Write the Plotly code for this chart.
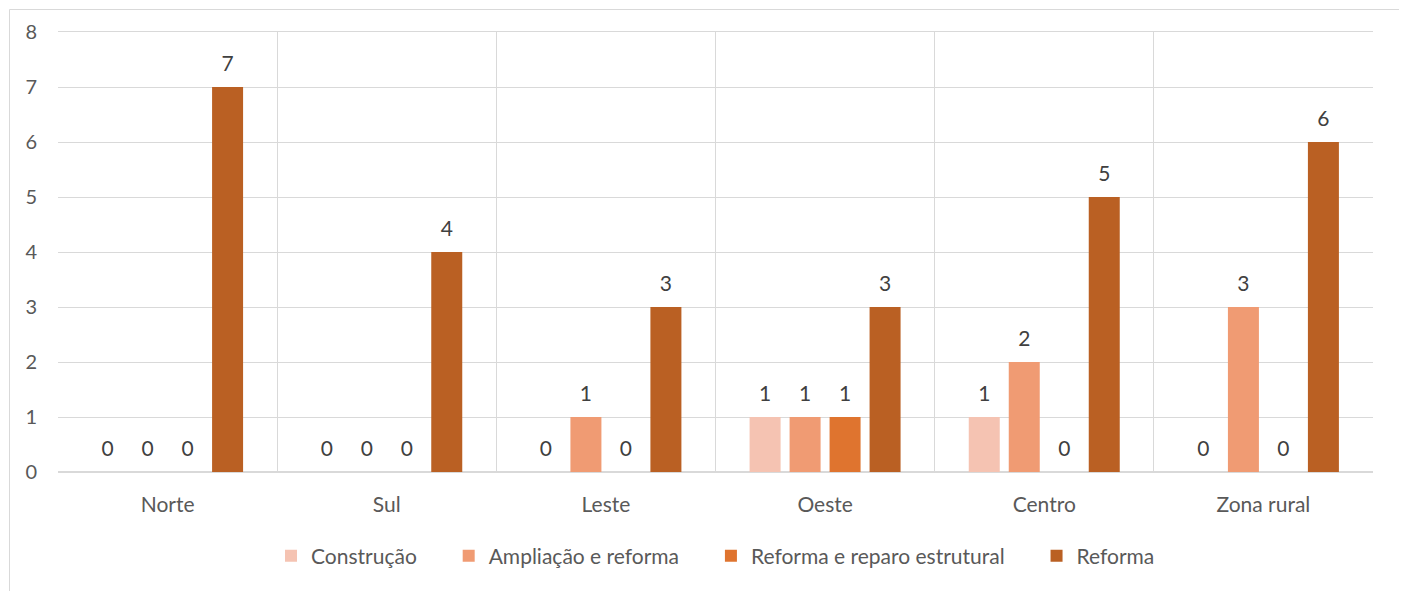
import plotly.graph_objects as go

categories = ["Norte", "Sul", "Leste", "Oeste", "Centro", "Zona rural"]
series_names = ["Construção", "Ampliação e reforma", "Reforma e reparo estrutural", "Reforma"]
construcao = [0, 0, 0, 1, 1, 0]
ampliacao = [0, 0, 1, 1, 2, 3]
reparo = [0, 0, 0, 1, 0, 0]
reforma = [7, 4, 3, 3, 5, 6]
colors = ["#F5C3B2", "#F09B73", "#DF742F", "#BA6023"]

FONT = "Lato"
NB = "\u00a0" * 5

fig = go.Figure()
all_vals = [construcao, ampliacao, reparo, reforma]
for i, (name, vals, col) in enumerate(zip(series_names, all_vals, colors)):
    label = name + (NB if i < len(series_names) - 1 else "")
    fig.add_trace(go.Bar(
        x=categories, y=vals, name=label, offsetgroup=str(i),
        marker=dict(color=col, line=dict(width=0)),
        hoverinfo="x+y+name",
    ))
for i, vals in enumerate(all_vals):
    fig.add_trace(go.Scatter(
        x=categories, y=vals, mode="markers+text", offsetgroup=str(i),
        text=[str(v) for v in vals], textposition="top center",
        marker=dict(size=16, opacity=0), showlegend=False, hoverinfo="skip",
        textfont=dict(size=21, color="#404040", family=FONT), cliponaxis=False,
    ))

# page has an 8px body offset
OFF = 8
W, H = 1407 - OFF, 591 - OFF
ml, mr, mt, mb = 58 - OFF, 34, 32 - OFF, 119
pw, ph = W - ml - mr, H - mt - mb

def px2x(p):
    return (p - OFF - ml) / pw

def py2y(p):
    return (H + OFF - mb - p) / ph

fig.update_layout(
    width=W, height=H,
    margin=dict(l=ml, r=mr, t=mt, b=mb),
    barmode="group", bargap=0.27, bargroupgap=0.225,
    scattermode="group", scattergap=0.27,
    plot_bgcolor="white", paper_bgcolor="white",
    font=dict(family=FONT, color="#595959", size=21),
    showlegend=True,
    legend=dict(orientation="h", x=0.5, xanchor="center", y=py2y(556), yanchor="middle",
                font=dict(size=21, color="#595959"), itemwidth=30, traceorder="normal"),
    xaxis=dict(tickson="boundaries", showgrid=True, gridcolor="#D9D9D9", gridwidth=1,
               ticks="", showline=True, linecolor="#D9D9D9", mirror=True,
               ticklabelstandoff=14, tickfont=dict(size=21, color="#595959")),
    yaxis=dict(range=[0, 8], dtick=1, showgrid=True, gridcolor="#D9D9D9", gridwidth=1,
               zeroline=True, zerolinecolor="#D9D9D9", ticks="", showline=False,
               ticklabelstandoff=20, tickfont=dict(size=20, color="#595959")),
    shapes=[dict(type="rect", xref="paper", yref="paper",
                 x0=px2x(9.5), x1=px2x(1401.5), y0=py2y(620), y1=py2y(9.5),
                 line=dict(color="#D9D9D9", width=1), layer="above")],
)

fig.write_html("out.html")
